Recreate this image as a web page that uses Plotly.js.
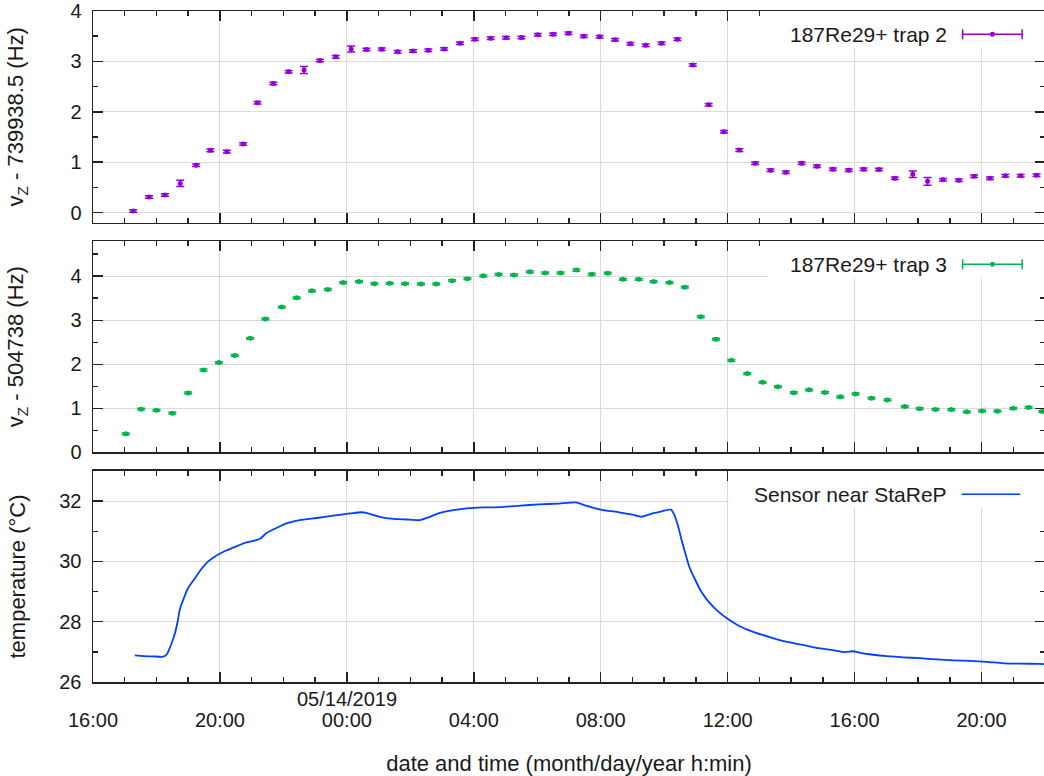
<!DOCTYPE html>
<html>
<head>
<meta charset="utf-8">
<script src="https://cdn.plot.ly/plotly-3.0.1.min.js"></script>
<style>
  html, body { margin: 0; padding: 0; background: #fff; overflow: hidden; }
  #chart { width: 1045px; height: 776px; }
</style>
</head>
<body>
<div id="chart"></div>
<script>
// 187Re29+ trap 2: axial frequency offset from 739938.5 Hz
const trap2Times = [
  '2019-05-13 17:16','2019-05-13 17:46','2019-05-13 18:16','2019-05-13 18:45','2019-05-13 19:15',
  '2019-05-13 19:42','2019-05-13 20:13','2019-05-13 20:44','2019-05-13 21:11','2019-05-13 21:41',
  '2019-05-13 22:10','2019-05-13 22:39','2019-05-13 23:09','2019-05-13 23:39','2019-05-14 00:08',
  '2019-05-14 00:37','2019-05-14 01:06','2019-05-14 01:36','2019-05-14 02:05','2019-05-14 02:34',
  '2019-05-14 03:04','2019-05-14 03:34','2019-05-14 04:02','2019-05-14 04:32','2019-05-14 05:01',
  '2019-05-14 05:30','2019-05-14 06:01','2019-05-14 06:30','2019-05-14 06:59','2019-05-14 07:28',
  '2019-05-14 07:58','2019-05-14 08:27','2019-05-14 08:56','2019-05-14 09:25','2019-05-14 09:55',
  '2019-05-14 10:25','2019-05-14 10:54','2019-05-14 11:24','2019-05-14 11:53','2019-05-14 12:22',
  '2019-05-14 12:52','2019-05-14 13:21','2019-05-14 13:50','2019-05-14 14:20','2019-05-14 14:49',
  '2019-05-14 15:19','2019-05-14 15:49','2019-05-14 16:17','2019-05-14 16:46','2019-05-14 17:16',
  '2019-05-14 17:50','2019-05-14 18:18','2019-05-14 18:47','2019-05-14 19:17','2019-05-14 19:46',
  '2019-05-14 20:16','2019-05-14 20:45','2019-05-14 21:14','2019-05-14 21:44'
];
const trap2Values = [
  0.03, 0.31, 0.35, 0.58, 0.94, 1.235, 1.21, 1.36, 2.18, 2.56,
  2.795, 2.83, 3.02, 3.09, 3.245, 3.235, 3.24, 3.19, 3.205, 3.22,
  3.245, 3.36, 3.44, 3.46, 3.47, 3.475, 3.53, 3.54, 3.56, 3.50,
  3.49, 3.43, 3.35, 3.32, 3.36, 3.44, 2.93, 2.14, 1.605, 1.24,
  0.98, 0.84, 0.80, 0.98, 0.92, 0.86, 0.84, 0.86, 0.855, 0.68,
  0.76, 0.62, 0.65, 0.64, 0.72, 0.68, 0.73, 0.73, 0.74
];
const trap2Errors = [
  0.025, 0.025, 0.025, 0.06, 0.025, 0.025, 0.025, 0.025, 0.025, 0.025,
  0.025, 0.07, 0.025, 0.025, 0.06, 0.025, 0.025, 0.025, 0.025, 0.025,
  0.025, 0.025, 0.025, 0.025, 0.025, 0.025, 0.025, 0.025, 0.025, 0.025,
  0.025, 0.025, 0.025, 0.025, 0.025, 0.025, 0.025, 0.025, 0.025, 0.025,
  0.025, 0.025, 0.025, 0.025, 0.025, 0.025, 0.025, 0.025, 0.025, 0.025,
  0.065, 0.075, 0.025, 0.025, 0.025, 0.025, 0.025, 0.025, 0.025
];

// 187Re29+ trap 3: axial frequency offset from 504738 Hz
const trap3Times = [
  '2019-05-13 17:02','2019-05-13 17:31','2019-05-13 18:00','2019-05-13 18:30','2019-05-13 19:00',
  '2019-05-13 19:29','2019-05-13 19:58','2019-05-13 20:28','2019-05-13 20:57','2019-05-13 21:26',
  '2019-05-13 21:57','2019-05-13 22:25','2019-05-13 22:54','2019-05-13 23:24','2019-05-13 23:53',
  '2019-05-14 00:23','2019-05-14 00:52','2019-05-14 01:21','2019-05-14 01:50','2019-05-14 02:20',
  '2019-05-14 02:49','2019-05-14 03:19','2019-05-14 03:48','2019-05-14 04:18','2019-05-14 04:47',
  '2019-05-14 05:16','2019-05-14 05:46','2019-05-14 06:15','2019-05-14 06:44','2019-05-14 07:14',
  '2019-05-14 07:43','2019-05-14 08:13','2019-05-14 08:42','2019-05-14 09:12','2019-05-14 09:40',
  '2019-05-14 10:10','2019-05-14 10:39','2019-05-14 11:09','2019-05-14 11:38','2019-05-14 12:07',
  '2019-05-14 12:37','2019-05-14 13:06','2019-05-14 13:35','2019-05-14 14:05','2019-05-14 14:34',
  '2019-05-14 15:04','2019-05-14 15:33','2019-05-14 16:02','2019-05-14 16:32','2019-05-14 17:02',
  '2019-05-14 17:35','2019-05-14 18:03','2019-05-14 18:33','2019-05-14 19:03','2019-05-14 19:32',
  '2019-05-14 20:01','2019-05-14 20:30','2019-05-14 21:00','2019-05-14 21:29','2019-05-14 21:55'
];
const trap3Values = [
  0.42, 0.98, 0.955, 0.89, 1.35, 1.87, 2.04, 2.20, 2.59, 3.03,
  3.30, 3.51, 3.67, 3.70, 3.855, 3.88, 3.83, 3.84, 3.83, 3.825,
  3.825, 3.90, 3.945, 4.01, 4.04, 4.03, 4.10, 4.075, 4.075, 4.14,
  4.045, 4.07, 3.93, 3.93, 3.88, 3.855, 3.75, 3.08, 2.57, 2.09,
  1.79, 1.59, 1.49, 1.355, 1.42, 1.36, 1.26, 1.325, 1.23, 1.19,
  1.04, 0.99, 0.975, 0.97, 0.92, 0.94, 0.935, 1.00, 1.02, 0.93
];
const trap3Errors = [
  0.02, 0.02, 0.02, 0.02, 0.02, 0.02, 0.02, 0.02, 0.02, 0.02,
  0.02, 0.02, 0.02, 0.02, 0.02, 0.02, 0.02, 0.02, 0.02, 0.02,
  0.02, 0.02, 0.02, 0.02, 0.02, 0.02, 0.02, 0.02, 0.02, 0.025,
  0.02, 0.02, 0.02, 0.02, 0.02, 0.02, 0.02, 0.02, 0.02, 0.02,
  0.02, 0.02, 0.02, 0.02, 0.02, 0.02, 0.02, 0.02, 0.02, 0.02,
  0.02, 0.02, 0.02, 0.02, 0.02, 0.02, 0.02, 0.02, 0.02, 0.02
];

// Temperature sensor near StaReP
const sensorTimes = [
  '2019-05-13 17:19','2019-05-13 17:36','2019-05-13 17:54','2019-05-13 18:13','2019-05-13 18:20',
  '2019-05-13 18:25','2019-05-13 18:30','2019-05-13 18:35','2019-05-13 18:40','2019-05-13 18:44',
  '2019-05-13 18:53','2019-05-13 19:00','2019-05-13 19:13','2019-05-13 19:25','2019-05-13 19:38',
  '2019-05-13 19:53','2019-05-13 20:13','2019-05-13 20:31','2019-05-13 20:50','2019-05-13 21:05',
  '2019-05-13 21:16','2019-05-13 21:28','2019-05-13 21:47','2019-05-13 22:06','2019-05-13 22:31',
  '2019-05-13 23:03','2019-05-13 23:34','2019-05-14 00:06','2019-05-14 00:28','2019-05-14 00:37',
  '2019-05-14 00:50','2019-05-14 01:02','2019-05-14 01:28','2019-05-14 01:53','2019-05-14 02:18',
  '2019-05-14 02:37','2019-05-14 02:56','2019-05-14 03:22','2019-05-14 03:47','2019-05-14 04:18',
  '2019-05-14 04:50','2019-05-14 05:28','2019-05-14 06:03','2019-05-14 06:41','2019-05-14 07:13',
  '2019-05-14 07:32','2019-05-14 08:00','2019-05-14 08:35','2019-05-14 09:00','2019-05-14 09:17',
  '2019-05-14 09:38','2019-05-14 09:57','2019-05-14 10:13','2019-05-14 10:19','2019-05-14 10:24',
  '2019-05-14 10:28','2019-05-14 10:33','2019-05-14 10:38','2019-05-14 10:47','2019-05-14 10:57',
  '2019-05-14 11:10','2019-05-14 11:25','2019-05-14 11:44','2019-05-14 12:00','2019-05-14 12:22',
  '2019-05-14 12:47','2019-05-14 13:19','2019-05-14 13:50','2019-05-14 14:22','2019-05-14 14:53',
  '2019-05-14 15:19','2019-05-14 15:41','2019-05-14 15:57','2019-05-14 16:10','2019-05-14 16:28',
  '2019-05-14 17:00','2019-05-14 17:32','2019-05-14 18:03','2019-05-14 18:35','2019-05-14 19:07',
  '2019-05-14 19:38','2019-05-14 20:10','2019-05-14 20:41','2019-05-14 21:13','2019-05-14 21:50',
  '2019-05-14 22:00'
];
const sensorTemps = [
  26.88, 26.86, 26.85, 26.84, 26.93, 27.12, 27.35, 27.62, 28.00, 28.39,
  28.84, 29.12, 29.45, 29.75, 30.00, 30.19, 30.37, 30.50, 30.63, 30.69,
  30.75, 30.94, 31.11, 31.26, 31.37, 31.44, 31.52, 31.59, 31.63, 31.61,
  31.54, 31.48, 31.41, 31.39, 31.37, 31.48, 31.61, 31.70, 31.76, 31.79,
  31.80, 31.85, 31.89, 31.92, 31.96, 31.85, 31.72, 31.63, 31.55, 31.48,
  31.59, 31.67, 31.72, 31.55, 31.30, 31.06, 30.70, 30.39, 29.84, 29.45,
  29.00, 28.64, 28.31, 28.10, 27.86, 27.67, 27.49, 27.34, 27.23, 27.12,
  27.06, 26.99, 27.02, 26.97, 26.92, 26.86, 26.82, 26.79, 26.75, 26.72,
  26.70, 26.67, 26.62, 26.61, 26.60, 26.59
];

const legendNames = ['187Re29+ trap 2', '187Re29+ trap 3', 'Sensor near StaReP'];
const seriesColors = ['#9400d3', '#00b44b', '#0040ff'];

const FONT = 'Liberation Sans, Arial, Helvetica, sans-serif';
const INK = '#1a1a1a';
const FRAME = '#222222';
const GRID = '#dadada';
const xRange = ['2019-05-13 16:00', '2019-05-14 22:00'];

const traces = [
  {
    type: 'scatter', mode: 'markers', x: trap2Times, y: trap2Values,
    xaxis: 'x', yaxis: 'y', name: legendNames[0], showlegend: false,
    marker: { color: seriesColors[0], size: 5 },
    error_y: { type: 'data', array: trap2Errors, visible: true, color: seriesColors[0], thickness: 1.5, width: 4 }
  },
  {
    type: 'scatter', mode: 'markers', x: trap3Times, y: trap3Values,
    xaxis: 'x2', yaxis: 'y2', name: legendNames[1], showlegend: false,
    marker: { color: seriesColors[1], size: 5 },
    error_y: { type: 'data', array: trap3Errors, visible: true, color: seriesColors[1], thickness: 1.5, width: 4 }
  },
  {
    type: 'scatter', mode: 'lines', x: sensorTimes, y: sensorTemps,
    xaxis: 'x3', yaxis: 'y3', name: legendNames[2], showlegend: false,
    line: { color: seriesColors[2], width: 1.8, shape: 'spline', smoothing: 0.5 }
  }
];

function xAxis(anchor, labels) {
  return {
    type: 'date', range: xRange, anchor: anchor,
    tick0: '2019-05-13 16:00', dtick: 4 * 3600000, tickformat: '%H:%M',
    ticks: 'inside', ticklen: 10, tickwidth: 1.5, tickcolor: FRAME,
    minor: { dtick: 3600000, ticks: 'inside', ticklen: 5, tickwidth: 1.5, tickcolor: FRAME, showgrid: false },
    showline: true, linecolor: FRAME, linewidth: 1.5, mirror: 'ticks',
    showgrid: true, gridcolor: GRID, gridwidth: 1, zeroline: false,
    showticklabels: labels, ticklabelstandoff: 19,
    tickfont: { family: FONT, size: 20, color: INK }
  };
}

function yAxis(domain, range, dtick, minorDtick, title, anchor, standoff) {
  return {
    domain: domain, range: range, anchor: anchor,
    tick0: 0, dtick: dtick,
    ticks: 'inside', ticklen: 10, tickwidth: 1.5, tickcolor: FRAME,
    minor: { dtick: minorDtick, ticks: 'inside', ticklen: 5, tickwidth: 1.5, tickcolor: FRAME, showgrid: false },
    showline: true, linecolor: FRAME, linewidth: 1.5, mirror: 'ticks',
    showgrid: true, gridcolor: GRID, gridwidth: 1, zeroline: false,
    ticklabelstandoff: 6,
    tickfont: { family: FONT, size: 20, color: INK },
    title: { text: title, font: { family: FONT, size: 22, color: INK }, standoff: standoff }
  };
}

// gnuplot-style keys: label on the left, sample on the right, on a white patch
const keySpecs = [
  { xr: 'x domain', yr: 'y domain', box: 0.709, sample: [0.9135, 0.976], caps: true },
  { xr: 'x2 domain', yr: 'y2 domain', box: 0.709, sample: [0.9135, 0.976], caps: true },
  { xr: 'x3 domain', yr: 'y3 domain', box: 0.668, sample: [0.9125, 0.974], caps: false }
];
const keyY = 0.89;
const shapes = [];
const annotations = [];
keySpecs.forEach(function (k, i) {
  shapes.push({ type: 'rect', xref: k.xr, yref: k.yr, x0: k.box, x1: 1, y0: 0.825, y1: 1,
    fillcolor: '#ffffff', line: { width: 0 }, layer: 'above' });
  shapes.push({ type: 'line', xref: k.xr, yref: k.yr, x0: k.sample[0], x1: k.sample[1], y0: keyY, y1: keyY,
    line: { color: seriesColors[i], width: 1.5 }, layer: 'above' });
  if (k.caps) {
    [k.sample[0], k.sample[1]].forEach(function (xc) {
      shapes.push({ type: 'line', xref: k.xr, yref: k.yr, x0: xc, x1: xc,
        ysizemode: 'pixel', yanchor: keyY, y0: -5, y1: 5,
        line: { color: seriesColors[i], width: 1.5 }, layer: 'above' });
    });
    shapes.push({ type: 'circle', xref: k.xr, yref: k.yr,
      xsizemode: 'pixel', ysizemode: 'pixel',
      xanchor: (k.sample[0] + k.sample[1]) / 2, yanchor: keyY,
      x0: -2.5, x1: 2.5, y0: -2.5, y1: 2.5,
      fillcolor: seriesColors[i], line: { width: 0 }, layer: 'above' });
  }
  annotations.push({ xref: k.xr, yref: k.yr, x: 0.899, y: keyY, xanchor: 'right', yanchor: 'middle',
    text: legendNames[i], showarrow: false, font: { family: FONT, size: 21, color: INK } });
});

// date marker above the midnight tick
annotations.push({ xref: 'x3', yref: 'y3 domain', x: '2019-05-14 00:00', y: 0, yshift: -17,
  xanchor: 'center', yanchor: 'middle', text: '05/14/2019', showarrow: false,
  font: { family: FONT, size: 20, color: INK } });

const layout = {
  width: 1045, height: 776,
  margin: { l: 93, r: 0, t: 11, b: 94 },
  paper_bgcolor: '#ffffff', plot_bgcolor: '#ffffff',
  font: { family: FONT, size: 20, color: INK },
  showlegend: false,
  xaxis: xAxis('y', false),
  xaxis2: xAxis('y2', false),
  xaxis3: Object.assign(xAxis('y3', true), {
    title: { text: 'date and time (month/day/year h:min)', font: { family: FONT, size: 22, color: INK }, standoff: 27 }
  }),
  yaxis: yAxis([0.6845, 1], [-0.2, 4], 1, 0.5, 'v<sub>Z</sub> - 739938.5 (Hz)', 'x', 40),
  yaxis2: yAxis([0.3423, 0.6572], [0, 4.8], 1, 0.5, 'v<sub>Z</sub> - 504738 (Hz)', 'x2', 40),
  yaxis3: yAxis([0, 0.3145], [26, 33], 2, 1, 'temperature (°C)', 'x3', 27),
  shapes: shapes,
  annotations: annotations
};

Plotly.newPlot('chart', traces, layout, { displayModeBar: false, staticPlot: true });
</script>
</body>
</html>
